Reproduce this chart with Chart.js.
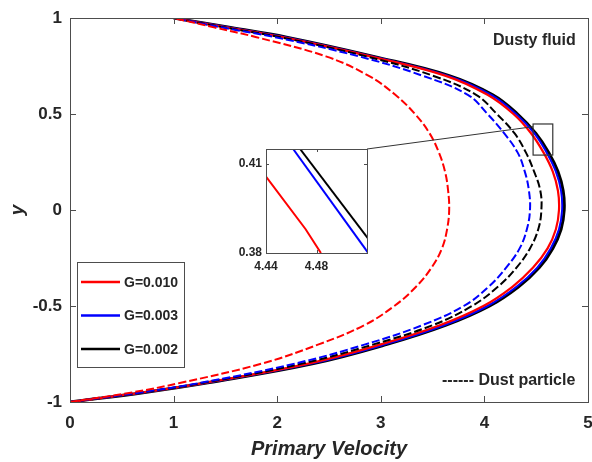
<!DOCTYPE html>
<html><head><meta charset="utf-8">
<script src="https://cdn.jsdelivr.net/npm/chart.js@4/dist/chart.umd.min.js"></script>
<style>
html,body{margin:0;padding:0;background:#fff;}
#wrap{position:relative;width:592px;height:462px;overflow:hidden;}
#main{position:absolute;left:0;top:0;}
#inset{position:absolute;left:226px;top:144px;}
</style></head><body>
<div id="wrap"><canvas id="main" width="592" height="462"></canvas><canvas id="inset" width="146" height="134"></canvas></div>
<script>
// ---- data (x = velocity read at each y) ----
const yVals = [-1,-0.95,-0.9,-0.8,-0.7,-0.6,-0.5,-0.4,-0.3,-0.2,-0.1,0,0.1,0.2,0.3,0.4,0.5,0.6,0.7,0.8,0.9,0.95,1];
const fluidG010 = [0,0.70,1.30,2.30,3.00,3.57,3.99,4.27,4.47,4.61,4.69,4.72,4.71,4.66,4.57,4.45,4.28,4.03,3.62,2.90,2.05,1.52,1];
const fluidG003 = [0,0.71,1.32,2.33,3.04,3.61,4.03,4.31,4.51,4.64,4.72,4.75,4.74,4.69,4.60,4.48,4.305,4.065,3.645,2.92,2.08,1.54,1];
const fluidG002 = [0,0.72,1.33,2.35,3.06,3.63,4.05,4.33,4.53,4.66,4.74,4.77,4.76,4.71,4.62,4.495,4.32,4.08,3.66,2.93,2.09,1.55,1];
const dustG010  = [0,0.60,1.07,1.85,2.40,2.84,3.13,3.34,3.49,3.59,3.64,3.66,3.65,3.62,3.56,3.47,3.33,3.14,2.88,2.47,1.80,1.40,1];
const dustG003  = [0,0.68,1.26,2.17,2.85,3.40,3.80,4.04,4.21,4.34,4.41,4.44,4.43,4.39,4.32,4.19,4.03,3.84,3.40,2.79,1.98,1.47,1];
const dustG002  = [0,0.70,1.29,2.24,2.93,3.50,3.88,4.13,4.31,4.44,4.52,4.55,4.54,4.48,4.40,4.29,4.12,3.92,3.50,2.86,2.03,1.50,1];
const legendLabels = ['G=0.010','G=0.003','G=0.002'];
const xTicks = [0,1,2,3,4,5];
const yTicks = [-1,-0.5,0,0.5,1];
// inset (zoom) data
const insetXTicks = [4.44,4.48];
const insetYTicks = [0.38,0.41];
const insetRed   = [{x:4.44,y:0.4057},{x:4.4714,y:0.388},{x:4.4835,y:0.38}];
const insetBlue  = [{x:4.4615,y:0.415},{x:4.521,y:0.38}];
const insetBlack = [{x:4.467,y:0.415},{x:4.521,y:0.3848}];
const zoomBox = {x0:4.47, x1:4.66, y0:0.286, y1:0.448, yLink:0.434};

const FONT = "'Liberation Sans', Arial, Helvetica, sans-serif";
const AX = '#4d4d4d';
const TXT = '#262626';
const RED='#ff0000', BLUE='#0000ff', BLACK='#000000';

const pts = arr => yVals.map((y,i)=>({x:arr[i], y:y}));

function inwardTicks(chart, xt, yt, len){
  const ctx = chart.ctx, a = chart.chartArea, xs = chart.scales.x, ys = chart.scales.y;
  ctx.save();
  ctx.strokeStyle = AX; ctx.lineWidth = 1;
  ctx.beginPath();
  xt.forEach(v=>{ const p = Math.round(xs.getPixelForValue(v))+0.5;
    ctx.moveTo(p,a.bottom); ctx.lineTo(p,a.bottom-len);
    ctx.moveTo(p,a.top); ctx.lineTo(p,a.top+len); });
  yt.forEach(v=>{ const p = Math.round(ys.getPixelForValue(v))+0.5;
    ctx.moveTo(a.left,p); ctx.lineTo(a.left+len,p);
    ctx.moveTo(a.right,p); ctx.lineTo(a.right-len,p); });
  ctx.stroke();
  ctx.strokeRect(Math.round(a.left)+0.5, Math.round(a.top)+0.5, Math.round(a.right-a.left), Math.round(a.bottom-a.top));
  ctx.restore();
}

// ---- inset chart ----
const insetChart = new Chart(document.getElementById('inset'), {
  type:'scatter',
  data:{datasets:[
    {data:insetRed, borderColor:RED, borderWidth:2, showLine:true, pointRadius:0, tension:0},
    {data:insetBlue, borderColor:BLUE, borderWidth:2, showLine:true, pointRadius:0, tension:0},
    {data:insetBlack, borderColor:BLACK, borderWidth:2, showLine:true, pointRadius:0, tension:0}
  ]},
  options:{
    responsive:false, animation:false, devicePixelRatio:1,
    layout:{padding:{top:5,right:5,left:0,bottom:0}},
    plugins:{legend:{display:false}, tooltip:{enabled:false}},
    scales:{
      x:{type:'linear', min:4.44, max:4.52,
         afterBuildTicks:s=>{s.ticks = insetXTicks.map(v=>({value:v}));},
         afterFit:s=>{s.height=25; s.paddingLeft=0; s.paddingRight=0;},
         grid:{display:false, drawTicks:false}, border:{display:false},
         ticks:{padding:6, color:TXT, font:{family:FONT,size:12,weight:'bold'}, maxRotation:0, autoSkip:false, callback:v=>Number(v).toFixed(2)}},
      y:{type:'linear', min:0.38, max:0.415,
         afterBuildTicks:s=>{s.ticks = insetYTicks.map(v=>({value:v}));},
         afterFit:s=>{s.width=40; s.paddingTop=0; s.paddingBottom=0;},
         grid:{display:false, drawTicks:false}, border:{display:false},
         ticks:{padding:4, color:TXT, font:{family:FONT,size:12,weight:'bold'}, autoSkip:false, callback:v=>Number(v).toFixed(2)}}
    }
  },
  plugins:[{id:'insetBox', afterDatasetsDraw(chart){ inwardTicks(chart, insetXTicks.concat([4.52]), insetYTicks, 3); }}]
});

// ---- main chart ----
const mainPlugin = {
  id:'mainDecor',
  afterDatasetsDraw(chart){
    const ctx = chart.ctx, xs = chart.scales.x, ys = chart.scales.y;
    inwardTicks(chart, xTicks, yTicks, 6);
    // zoom rectangle
    ctx.save();
    ctx.strokeStyle = '#333'; ctx.lineWidth = 1.2;
    const rx0 = xs.getPixelForValue(zoomBox.x0), rx1 = xs.getPixelForValue(zoomBox.x1);
    const ry0 = ys.getPixelForValue(zoomBox.y1), ry1 = ys.getPixelForValue(zoomBox.y0);
    ctx.strokeRect(rx0, ry0, rx1-rx0, ry1-ry0);
    // connector from inset corner
    const ia = insetChart.chartArea;
    const ix = 226 + ia.right, iy = 144 + ia.top;
    ctx.lineWidth = 1;
    ctx.beginPath(); ctx.moveTo(ix, iy); ctx.lineTo(rx0, ys.getPixelForValue(zoomBox.yLink)); ctx.stroke();
    // legend box
    ctx.strokeStyle = AX; ctx.lineWidth = 1;
    ctx.fillStyle = '#fff';
    ctx.fillRect(77.5, 262.5, 107, 105);
    ctx.strokeRect(77.5, 262.5, 107, 105);
    const cols = [RED, BLUE, BLACK];
    const ly = [282, 315.5, 349];
    ctx.font = "bold 14px " + FONT; ctx.textBaseline = 'middle'; ctx.textAlign = 'left';
    legendLabels.forEach((t,i)=>{
      ctx.strokeStyle = cols[i]; ctx.lineWidth = 2.5;
      ctx.beginPath(); ctx.moveTo(81, ly[i]); ctx.lineTo(120, ly[i]); ctx.stroke();
      ctx.fillStyle = TXT; ctx.fillText(t, 124, ly[i]+1);
    });
    // annotations
    ctx.font = "bold 16px " + FONT; ctx.fillStyle = TXT;
    ctx.fillText('Dusty fluid', 493, 41);
    ctx.fillText('------ Dust particle', 442, 381);
    ctx.restore();
  }
};

const ds = (arr, col, dash, w) => ({data:pts(arr), borderColor:col, borderWidth:w, borderDash:dash, showLine:true, pointRadius:0, tension:0.4, fill:false});

new Chart(document.getElementById('main'), {
  type:'scatter',
  data:{datasets:[
    ds(dustG010, RED, [8,3], 2),
    ds(dustG003, BLUE, [8,3], 2),
    ds(dustG002, BLACK, [8,3], 2),
    ds(fluidG010, RED, [], 2.2),
    ds(fluidG003, BLUE, [], 2),
    ds(fluidG002, BLACK, [], 3)
  ]},
  options:{
    responsive:false, animation:false, devicePixelRatio:1,
    layout:{padding:{top:18,right:4,left:0,bottom:0}},
    plugins:{legend:{display:false}, tooltip:{enabled:false}},
    scales:{
      x:{type:'linear', min:0, max:5,
         afterBuildTicks:s=>{s.ticks = xTicks.map(v=>({value:v}));},
         afterFit:s=>{s.height=60; s.paddingLeft=0; s.paddingRight=0;},
         grid:{display:false, drawTicks:false}, border:{display:false},
         ticks:{padding:11, color:TXT, font:{family:FONT,size:17,weight:'bold'}, maxRotation:0, autoSkip:false, callback:v=>String(v)},
         title:{display:true, text:'Primary Velocity', color:TXT, font:{family:FONT,size:20,weight:'bold',style:'italic'}, padding:{top:0,bottom:1}}},
      y:{type:'linear', min:-1, max:1,
         afterBuildTicks:s=>{s.ticks = yTicks.map(v=>({value:v}));},
         afterFit:s=>{s.width=70; s.paddingTop=0; s.paddingBottom=0;},
         grid:{display:false, drawTicks:false}, border:{display:false},
         ticks:{padding:8, color:TXT, font:{family:FONT,size:17,weight:'bold'}, autoSkip:false, callback:v=>String(v)},
         title:{display:true, text:'y', color:TXT, font:{family:FONT,size:19,weight:'bold',style:'italic'}, padding:{top:6,bottom:0}}}
    }
  },
  plugins:[mainPlugin]
});
</script>
</body></html>
